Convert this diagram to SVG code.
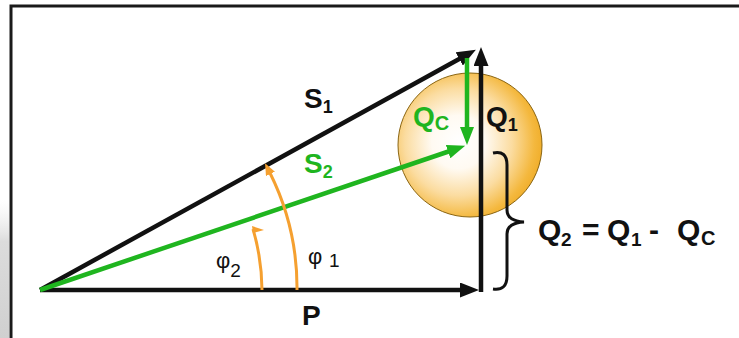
<svg xmlns="http://www.w3.org/2000/svg" width="739" height="338" viewBox="0 0 739 338">
<style>
.t{font-family:"Liberation Sans",Arial,sans-serif;font-weight:bold}
.phi{font-family:"Liberation Sans",Arial,sans-serif;font-weight:normal}
.blk{stroke:#111;stroke-width:4.5;fill:none}
.grn{stroke:#1fb51f;stroke-width:4.5;fill:none}
.org{stroke:#f5a030;stroke-width:3;fill:none}
</style>
<defs>
<radialGradient id="ball" cx="0.42" cy="0.48" r="0.62">
<stop offset="0" stop-color="#ffffff"/>
<stop offset="0.3" stop-color="#fffaf2"/>
<stop offset="0.6" stop-color="#fbdca0"/>
<stop offset="0.85" stop-color="#f4b83e"/>
<stop offset="1" stop-color="#eea820"/>
</radialGradient>
<linearGradient id="side" x1="0" y1="0" x2="0" y2="1">
<stop offset="0" stop-color="#eeeeee" stop-opacity="0"/>
<stop offset="0.3" stop-color="#dcdcdc"/>
<stop offset="1" stop-color="#d0d0d0"/>
</linearGradient>
<marker id="ab" markerUnits="userSpaceOnUse" markerWidth="19" markerHeight="15" refX="2" refY="7.5" orient="auto">
<path d="M0,0 L19,7.5 L0,15 z" fill="#111"/>
</marker>
<marker id="ag" markerUnits="userSpaceOnUse" markerWidth="18" markerHeight="14" refX="2" refY="7" orient="auto">
<path d="M0,0 L18,7 L0,14 z" fill="#1fb51f"/>
</marker>
<marker id="ao" markerUnits="userSpaceOnUse" markerWidth="12" markerHeight="10" refX="1" refY="5" orient="auto">
<path d="M0,0 L12,5 L0,10 z" fill="#f5a030"/>
</marker>
</defs>
<rect x="0" y="0" width="739" height="338" fill="#ffffff"/>
<rect x="0" y="200" width="9" height="138" fill="url(#side)"/>
<path d="M11,338 L11,6 L739,6" fill="none" stroke="#1a1a1a" stroke-width="3"/>

<g id="ball-node">
<circle cx="470" cy="145" r="72" fill="url(#ball)" stroke="#8a6410" stroke-width="1"/>
</g>

<g id="connectors">
<line id="P" class="blk" x1="40" y1="290" x2="462" y2="290" marker-end="url(#ab)"/>
<line id="Q1" class="blk" x1="481" y1="292" x2="481" y2="64" marker-end="url(#ab)"/>
<line id="S1" class="blk" x1="40" y1="290" x2="461" y2="58" marker-end="url(#ab)"/>
<line id="QC" class="grn" x1="467" y1="58" x2="467" y2="129" marker-end="url(#ag)"/>
<line id="S2" class="grn" x1="40" y1="290" x2="450" y2="151" marker-end="url(#ag)"/>
<path id="phi1-arc" class="org" d="M297,290 A257,257 0 0 0 270,173" marker-end="url(#ao)"/>
<path id="phi2-arc" class="org" d="M262,290 A222,222 0 0 0 253,229"/>
<path id="phi2-barb" d="M252,226 L264,230 L253,233 z" fill="#f5a030"/>
<path id="brace" d="M493,153 Q507,150 507,165 L507,210 Q507,221 524,222 Q507,223 507,234 L507,276 Q507,291 493,289" fill="none" stroke="#111" stroke-width="3"/>
</g>

<g id="label-S1"><text class="t" x="304" y="108" font-size="28" fill="#111">S<tspan font-size="18" dy="5">1</tspan></text></g>
<g id="label-S2"><text class="t" x="304" y="173" font-size="28" fill="#1fb51f">S<tspan font-size="18" dy="5">2</tspan></text></g>
<g id="label-QC"><text class="t" x="413" y="126" font-size="28" fill="#1fb51f">Q<tspan font-size="20" dy="4">C</tspan></text></g>
<g id="label-Q1"><text class="t" x="486" y="126" font-size="28" fill="#111">Q<tspan font-size="18" dy="5">1</tspan></text></g>
<g id="label-phi2"><text class="phi" x="216" y="268" font-size="22" fill="#111">φ<tspan font-size="19" dy="9">2</tspan></text></g>
<g id="label-phi1"><text class="phi" x="308" y="264" font-size="22" fill="#111">φ<tspan font-size="19" x="329" dy="3">1</tspan></text></g>
<g id="label-P"><text class="t" x="302" y="325" font-size="28" fill="#111">P</text></g>
<g id="label-Q2"><text class="t" y="240" font-size="30" fill="#111"><tspan x="538">Q</tspan><tspan x="561" font-size="19" dy="6">2</tspan><tspan x="582" dy="-6">=</tspan><tspan x="607">Q</tspan><tspan x="631" font-size="19" dy="6">1</tspan><tspan x="649" dy="-6">-</tspan><tspan x="677">Q</tspan><tspan x="701" font-size="20" dy="5">C</tspan></text></g>
</svg>
